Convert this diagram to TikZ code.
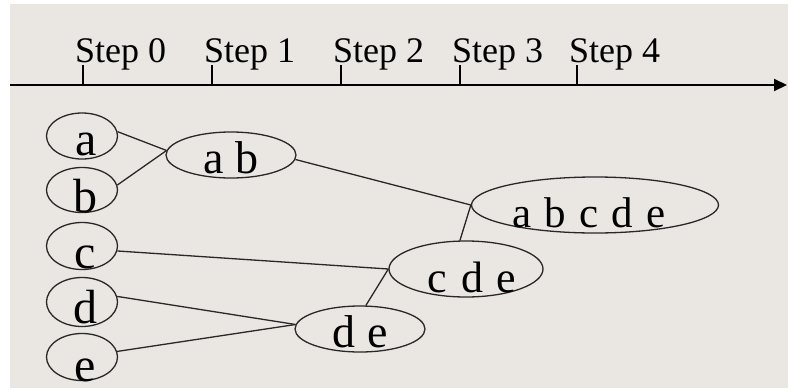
\documentclass[tikz,border=0pt]{standalone}
\usepackage{fontspec}
\setmainfont{Liberation Serif}
\usetikzlibrary{shapes.geometric,arrows.meta}
\definecolor{bggrey}{RGB}{234,230,226}
\definecolor{inkline}{RGB}{40,40,40}
\tikzset{
  blob/.style={ellipse, draw=inkline, line width=1.3pt, inner sep=0pt},
  lbl/.style={anchor=base, inner sep=0pt, text=black},
  steplbl/.style={anchor=base west, inner sep=0pt, font=\fontsize{36}{40}\selectfont},
  link/.style={draw=inkline, line width=1.3pt},
  tick/.style={draw=black, line width=1.5pt},
}
\begin{document}
\begin{tikzpicture}[x=1pt,y=-1pt]
\useasboundingbox (0,0) rectangle (788,389);
\fill[white] (0,0) rectangle (788,389);
\fill[bggrey] (10,4) rectangle (788,388);

% axis
\coordinate (ax0) at (10,85);
\coordinate (ax1) at (787,85);
\draw[line width=2pt, -{Triangle[length=13pt,width=12pt]}] (ax0) -- (ax1);
\foreach \x/\n [count=\i from 0] in {83/0,212/1,341/2,460/3,577/4}{
  \coordinate (t\n) at (\x,85);
  \coordinate (tt\n) at (\x,65);
  \draw[tick] (t\n) -- (tt\n);
  \node[steplbl] (s\n) at (\x-8,62) {Step \n};
}

% ellipses
\node[blob, minimum width=71pt, minimum height=46pt] (a) at (82,136) {};
\node[blob, minimum width=71pt, minimum height=45pt] (b) at (82,190) {};
\node[blob, minimum width=71pt, minimum height=47pt] (c) at (82,246) {};
\node[blob, minimum width=71pt, minimum height=49pt] (d) at (82,302) {};
\node[blob, minimum width=71pt, minimum height=47pt] (e) at (82,357) {};
\node[blob, minimum width=130pt, minimum height=46pt] (ab) at (231,155) {};
\node[blob, minimum width=130pt, minimum height=46pt] (de) at (360,329) {};
\node[blob, minimum width=154pt, minimum height=56pt] (cde) at (466,269) {};
\node[blob, minimum width=247pt, minimum height=56pt] (abcde) at (595,205) {};

% labels
\node[lbl, font=\fontsize{48}{50}\selectfont] (ta) at (86,155) {a};
\node[lbl, font=\fontsize{48}{50}\selectfont] (tb) at (85,212) {b};
\node[lbl, font=\fontsize{48}{50}\selectfont] (tc) at (85,268) {c};
\node[lbl, font=\fontsize{48}{50}\selectfont] (td) at (85,323) {d};
\node[lbl, font=\fontsize{48}{50}\selectfont] (te) at (85,381) {e};
\node[lbl, font=\fontsize{46}{50}\selectfont] (tab) at (231,173) {a b};
\node[lbl, font=\fontsize{46}{50}\selectfont] (tde) at (360,347) {d e};
\node[lbl, font=\fontsize{44}{50}\selectfont] (tcde) at (472,292) {c\hspace{14pt}d\hspace{14pt}e};
\node[lbl, font=\fontsize{43}{50}\selectfont] (tabcde) at (589,227) {a\hspace{13pt}b\hspace{13pt}c\hspace{13pt}d\hspace{13pt}e};

% connectors
\draw[link] (a.7) -- (ab.176);
\draw[link] (b.8) -- (ab.176);
\draw[link] (ab.-4) -- (abcde.west);
\draw[link] (cde.102) -- (abcde.west);
\draw[link] (c.-8) -- (cde.west);
\draw[link] (de.76) -- (cde.west);
\draw[link] (d.9) -- (de.176);
\draw[link] (e.9) -- (de.176);
\end{tikzpicture}
\end{document}
